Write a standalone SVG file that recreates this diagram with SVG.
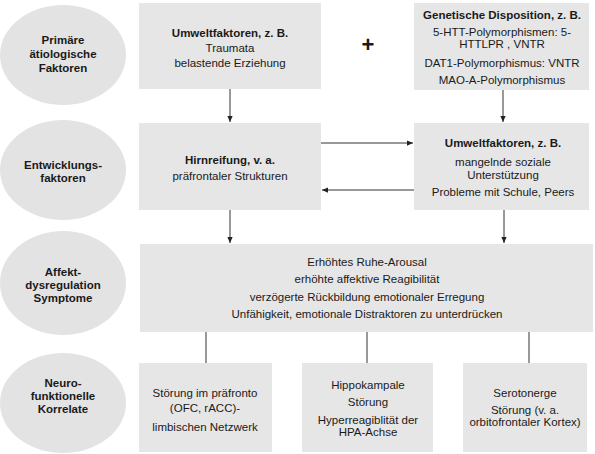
<svg xmlns="http://www.w3.org/2000/svg" width="595" height="454" viewBox="0 0 595 454">
<style>
.ell{fill:#e3e3e3}
.box{fill:#e6e6e6}
text{font-family:"Liberation Sans",Arial,sans-serif;font-size:11.5px;fill:#1a1a1a;text-anchor:middle}
.b{font-weight:bold}
.ln{stroke:#333;stroke-width:1;fill:none}
</style>
<defs>
<marker id="ah" viewBox="0 0 8 8" refX="8" refY="4" markerWidth="6" markerHeight="6" markerUnits="userSpaceOnUse" orient="auto">
<path d="M0,0.5 L8,4 L0,7.5 z" fill="#222"/>
</marker>
</defs>
<rect width="595" height="454" fill="#fff"/>
<g id="e1"><ellipse class="ell" cx="63" cy="55" rx="63" ry="50"/>
<text class="b" x="63" y="44">Primäre</text><text class="b" x="63" y="58">ätiologische</text><text class="b" x="63" y="72">Faktoren</text></g>
<g id="e2"><ellipse class="ell" cx="63" cy="170" rx="63" ry="50"/>
<text class="b" x="63" y="169">Entwicklungs-</text><text class="b" x="63" y="182">faktoren</text></g>
<g id="e3"><ellipse class="ell" cx="63" cy="283" rx="63" ry="52"/>
<text class="b" x="63" y="276">Affekt-</text><text class="b" x="63" y="289">dysregulation</text><text class="b" x="63" y="302">Symptome</text></g>
<g id="e4"><ellipse class="ell" cx="63" cy="403" rx="63" ry="50"/>
<text class="b" x="63" y="387">Neuro-</text><text class="b" x="63" y="400">funktionelle</text><text class="b" x="63" y="413">Korrelate</text></g>

<g id="b1"><rect class="box" x="139" y="3" width="182" height="86"/>
<text class="b" x="230" y="37">Umweltfaktoren, z. B.</text><text x="230" y="52">Traumata</text><text x="230" y="67">belastende Erziehung</text></g>
<g id="plus"><text class="b" x="368" y="52" style="font-size:22px">+</text></g>
<g id="b2"><rect class="box" x="414" y="3" width="175" height="87"/>
<text class="b" x="502" y="19">Genetische Disposition, z. B.</text><text x="502" y="36">5-HTT-Polymorphismen: 5-</text><text x="502" y="48">HTTLPR , VNTR</text><text x="502" y="67">DAT1-Polymorphismus: VNTR</text><text x="502" y="84">MAO-A-Polymorphismus</text></g>

<g id="b3"><rect class="box" x="139" y="123" width="182" height="87"/>
<text class="b" x="230" y="164">Hirnreifung, v. a.</text><text x="230" y="180">präfrontaler Strukturen</text></g>
<g id="b4"><rect class="box" x="414" y="123" width="175" height="87"/>
<text class="b" x="503" y="147">Umweltfaktoren, z. B.</text><text x="503" y="166">mangelnde soziale</text><text x="503" y="179">Unterstützung</text><text x="503" y="196">Probleme mit Schule, Peers</text></g>

<g id="b5"><rect class="box" x="140" y="244" width="453" height="88"/>
<text x="367" y="266">Erhöhtes Ruhe-Arousal</text><text x="367" y="283">erhöhte affektive Reagibilität</text><text x="367" y="301">verzögerte Rückbildung emotionaler Erregung</text><text x="367" y="318">Unfähigkeit, emotionale Distraktoren zu unterdrücken</text></g>

<g id="b6"><rect class="box" x="139" y="363" width="133" height="89"/>
<text x="205" y="397">Störung im präfronto</text><text x="205" y="412">(OFC, rACC)-</text><text x="205" y="431">limbischen Netzwerk</text></g>
<g id="b7"><rect class="box" x="302" y="363" width="131" height="89"/>
<text x="368" y="389">Hippokampale</text><text x="368" y="406">Störung</text><text x="368" y="424">Hyperreagiblität der</text><text x="368" y="436">HPA-Achse</text></g>
<g id="b8"><rect class="box" x="463" y="363" width="124" height="89"/>
<text x="525" y="397">Serotonerge</text><text x="525" y="414">Störung (v. a.</text><text x="525" y="426">orbitofrontaler Kortex)</text></g>

<g id="connectors">
<line class="ln" x1="230" y1="89" x2="230" y2="122" marker-end="url(#ah)"/>
<line class="ln" x1="503" y1="90" x2="503" y2="122" marker-end="url(#ah)"/>
<line class="ln" x1="230" y1="210" x2="230" y2="243" marker-end="url(#ah)"/>
<line class="ln" x1="504" y1="210" x2="504" y2="243" marker-end="url(#ah)"/>
<line class="ln" x1="321" y1="143" x2="413" y2="143" marker-end="url(#ah)"/>
<line class="ln" x1="414" y1="190" x2="322" y2="190" marker-end="url(#ah)"/>
<line class="ln" x1="206" y1="332" x2="206" y2="363"/>
<line class="ln" x1="367" y1="332" x2="367" y2="363"/>
<line class="ln" x1="529" y1="332" x2="529" y2="363"/>
</g>
</svg>
